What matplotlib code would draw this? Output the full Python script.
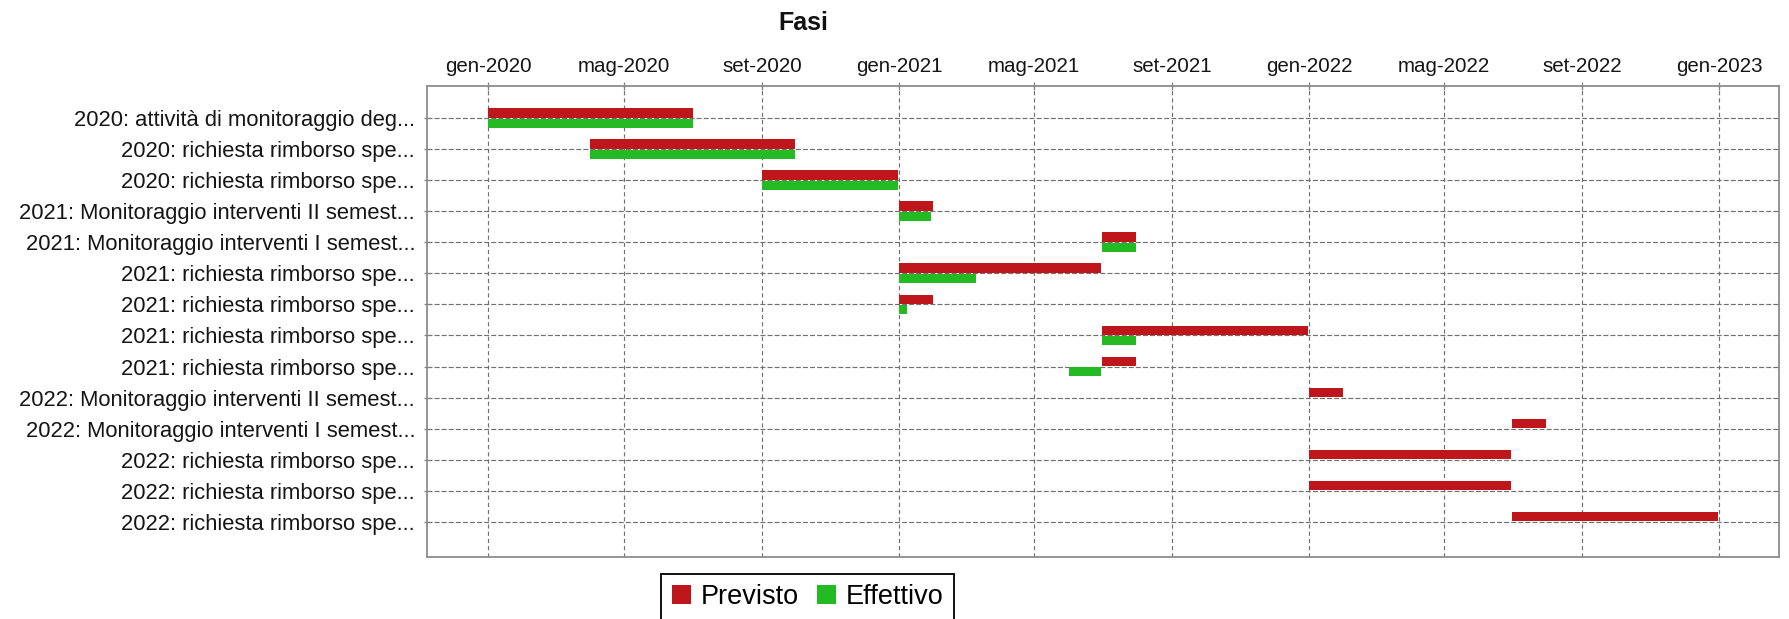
import matplotlib
matplotlib.use("Agg")
import matplotlib.pyplot as plt
import matplotlib.dates as mdates
from matplotlib.patches import Patch
import numpy as np
import pandas as pd

# ---------------- data ----------------
categories = [
    "2020: attività di monitoraggio deg...",
    "2020: richiesta rimborso spe...",
    "2020: richiesta rimborso spe...",
    "2021: Monitoraggio interventi II semest...",
    "2021: Monitoraggio interventi I semest...",
    "2021: richiesta rimborso spe...",
    "2021: richiesta rimborso spe...",
    "2021: richiesta rimborso spe...",
    "2021: richiesta rimborso spe...",
    "2022: Monitoraggio interventi II semest...",
    "2022: Monitoraggio interventi I semest...",
    "2022: richiesta rimborso spe...",
    "2022: richiesta rimborso spe...",
    "2022: richiesta rimborso spe...",
]

previsto_start = ["2020-01-01", "2020-04-01", "2020-09-01", "2021-01-01", "2021-07-01",
                  "2021-01-01", "2021-01-01", "2021-07-01", "2021-07-01", "2022-01-01",
                  "2022-07-01", "2022-01-01", "2022-01-01", "2022-07-01"]
previsto_end = ["2020-07-01", "2020-09-30", "2020-12-31", "2021-01-31", "2021-07-31",
                "2021-06-30", "2021-01-31", "2021-12-31", "2021-07-31", "2022-01-31",
                "2022-07-31", "2022-06-30", "2022-06-30", "2022-12-31"]

effettivo_start = ["2020-01-01", "2020-04-01", "2020-09-01", "2021-01-01", "2021-07-01",
                   "2021-01-01", "2021-01-01", "2021-07-01", "2021-06-01", None,
                   None, None, None, None]
effettivo_end = ["2020-07-01", "2020-09-30", "2020-12-31", "2021-01-29", "2021-07-31",
                 "2021-03-10", "2021-01-08", "2021-07-31", "2021-06-30", None,
                 None, None, None, None]

tick_dates = ["2020-01-01", "2020-05-01", "2020-09-01", "2021-01-01", "2021-05-01",
              "2021-09-01", "2022-01-01", "2022-05-01", "2022-09-01", "2023-01-01"]
tick_labels = ["gen-2020", "mag-2020", "set-2020", "gen-2021", "mag-2021",
               "set-2021", "gen-2022", "mag-2022", "set-2022", "gen-2023"]

series_names = ["Previsto", "Effettivo"]
series_colors = ["#BF161C", "#23BA23"]

# ---------------- style ----------------
plt.rcParams['font.family'] = ['Liberation Sans', 'DejaVu Sans']
plt.rcParams['lines.scale_dashes'] = False

W, H = 1789, 619
fig = plt.figure(figsize=(W / 100, H / 100), dpi=100)
fig.patch.set_facecolor("white")

left_px, right_px, top_px, bottom_px = 426.7, 1779.3, 85.5, 557.0
ax = fig.add_axes([left_px / W, 1 - bottom_px / H,
                   (right_px - left_px) / W, (bottom_px - top_px) / H])
ax.set_facecolor("white")

y = np.arange(len(categories))

ps = mdates.date2num(pd.to_datetime(previsto_start))
pe = mdates.date2num(pd.to_datetime(previsto_end))
es_dt = pd.to_datetime(pd.Series(effettivo_start))
ee_dt = pd.to_datetime(pd.Series(effettivo_end))
mask = es_dt.notna().values
es = mdates.date2num(es_dt[mask])
ee = mdates.date2num(ee_dt[mask])

bar_h = 0.30
off = 0.17
ax.barh(y - off, pe - ps, left=ps, height=bar_h, color=series_colors[0],
        edgecolor="none", zorder=3)
ax.barh(y[mask] + off, ee - es, left=es, height=bar_h, color=series_colors[1],
        edgecolor="none", zorder=3)

# x axis (dates, on top)
xmin = ps.min()
xmax = max(pe.max(), ee.max())
span = xmax - xmin
ax.set_xlim(xmin - 0.05 * span, xmax + 0.05 * span)
ax.xaxis.tick_top()
ax.set_xticks(mdates.date2num(pd.to_datetime(tick_dates)))
ax.set_xticklabels(tick_labels, fontsize=14.8, color="#151515")
ax.tick_params(axis="x", which="both", direction="inout", length=6, width=0.9,
               color="#808080", pad=3.8, top=True, bottom=False)

# y axis (categories)
ax.set_ylim(len(categories) - 1 + 1.14, -1.057)
ax.set_yticks(y)
ax.set_yticklabels(categories, fontsize=15.8, color="#151515")
ax.tick_params(axis="y", direction="inout", length=4, width=0.9,
               color="#808080", pad=6.4)

# gridlines
ax.set_axisbelow(True)
ax.xaxis.grid(True, linestyle=(0, (3.0, 2.2)), color="#707070", linewidth=0.85)
ax.yaxis.grid(True, linestyle=(0, (3.6, 1.5)), color="#707070", linewidth=0.85)

for s in ax.spines.values():
    s.set_color("#8c8c8c")
    s.set_linewidth(1.3)

# title
fig.text(803 / W, 1 - 23.5 / H, "Fasi", ha="center", va="center",
         fontsize=18, fontweight="bold", color="#111111")

# legend
handles = [Patch(facecolor=c, edgecolor="none", label=n)
           for c, n in zip(series_colors, series_names)]
leg = fig.legend(handles=handles, loc="upper center", ncol=2,
                 bbox_to_anchor=(807.5 / W, 1 - 573.5 / H),
                 fontsize=19.5, frameon=True, fancybox=False,
                 borderpad=0.4, handlelength=0.7, handleheight=0.7,
                 handletextpad=0.36, columnspacing=0.66, borderaxespad=0)
leg.get_frame().set_edgecolor("#111111")
leg.get_frame().set_linewidth(1.4)
leg.get_frame().set_alpha(1)

fig.savefig("out.png", dpi=100, facecolor="white")
